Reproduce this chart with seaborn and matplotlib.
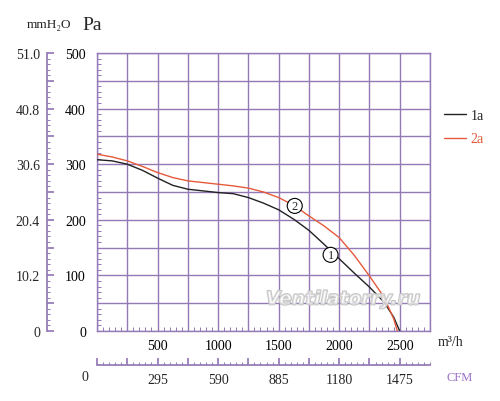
import pandas as pd
import matplotlib
matplotlib.use('Agg')
import matplotlib.pyplot as plt
import matplotlib.patheffects as pe
import seaborn as sns

# fan curves (flow in m3/h, static pressure in Pa)
flow_1 = [0, 125, 250, 375, 500, 625, 750, 875, 1000, 1125, 1250, 1375, 1500,
          1625, 1750, 1875, 2000, 2125, 2250, 2370, 2450, 2500]
pa_1 = [308, 306, 300, 289, 275, 262, 255, 252, 249, 247, 240, 230, 218,
        201, 181, 156, 130, 104, 79, 52, 25, 0]
flow_2 = [0, 125, 250, 375, 500, 625, 750, 875, 1000, 1125, 1250, 1375, 1500,
          1625, 1750, 1875, 2000, 2125, 2250, 2370, 2450, 2480]
pa_2 = [318, 313, 306, 296, 285, 276, 270, 267, 264, 261, 257, 250, 240,
        226, 207, 189, 168, 136, 99, 61, 22, 0]

x_labels = [500, 1000, 1500, 2000, 2500]
cfm_labels = [295, 590, 885, 1180, 1475]
pa_labels = [0, 100, 200, 300, 400, 500]
mm_labels = ['0', '10.2', '20.4', '30.6', '40.8', '51.0']

grid_col = '#9379b5'
red = '#e65a3c'

df = pd.concat([
    pd.DataFrame({'flow': flow_1, 'pa': pa_1, 'curve': '1a'}),
    pd.DataFrame({'flow': flow_2, 'pa': pa_2, 'curve': '2a'}),
])

sns.set_theme(style='white')
plt.rcParams['font.family'] = ['Liberation Serif', 'DejaVu Serif']

fig = plt.figure(figsize=(5.0, 4.02), dpi=100)
L, R, B, T = 97 / 500, 430 / 500, 1 - 332 / 402, 1 - 54 / 402
ax = fig.add_axes([L, B, R - L, T - B])

sns.lineplot(data=df, x='flow', y='pa', hue='curve', palette={'1a': '#222222', '2a': red},
             sort=False, linewidth=1.0, ax=ax, zorder=3)

ax.set_xlim(0, 2750)
ax.set_ylim(0, 500)
ax.set_xticks(range(0, 2751, 250))
ax.set_xticklabels([str(v) if v in x_labels else '' for v in range(0, 2751, 250)])
ax.set_xticks(range(0, 2751, 50), minor=True)
ax.set_yticks(range(0, 501, 50))
ax.set_yticklabels([str(v) if v in pa_labels else '' for v in range(0, 501, 50)])
ax.set_yticks(range(0, 501, 10), minor=True)
ax.grid(True, which='major', color=grid_col, linewidth=1.0)
ax.tick_params(which='major', direction='in', length=0, labelsize=10, pad=6, colors='black')
ax.tick_params(axis='y', which='major', pad=8)
ax.tick_params(which='minor', direction='in', length=3, width=0.7, color=grid_col,
               bottom=True, left=True)
for s in ax.spines.values():
    s.set_color(grid_col)
    s.set_linewidth(1.0)
ax.set_xlabel('')
ax.set_ylabel('')

# circled curve numbers
ax.text(1633, 225, '2', fontsize=9, ha='center', va='center', zorder=4,
        bbox=dict(boxstyle='circle,pad=0.12', fc='white', ec='black', lw=0.8))
ax.text(1929, 137, '1', fontsize=9, ha='center', va='center', zorder=4,
        bbox=dict(boxstyle='circle,pad=0.12', fc='white', ec='black', lw=0.8))

leg = ax.legend(loc='upper left', bbox_to_anchor=(444 / 500, 1 - 110 / 402),
                bbox_transform=fig.transFigure, frameon=False, fontsize=10,
                handlelength=1.6, handletextpad=0.3, labelspacing=0.75,
                borderpad=0, borderaxespad=0, labelcolor='linecolor')

# mmH2O scale
axm = fig.add_axes([47 / 500, B, 0.001, T - B])
axm.patch.set_visible(False)
for k in ['right', 'top', 'bottom']:
    axm.spines[k].set_visible(False)
axm.spines['left'].set_color(grid_col)
axm.set_ylim(0, 51)
axm.set_xticks([])
mm_major = [i * 5.1 for i in range(11)]
axm.set_yticks(mm_major)
axm.set_yticklabels([mm_labels[i // 2] if i % 2 == 0 else '' for i in range(11)])
axm.set_yticks([i * 1.02 for i in range(51)], minor=True)
axm.tick_params(axis='y', which='major', direction='in', length=5, color=grid_col,
                labelsize=10, pad=5, left=True)
axm.tick_params(axis='y', which='minor', direction='in', length=2.5, width=0.7,
                color=grid_col, left=True)

# CFM scale
axc = fig.add_axes([L, 1 - 366 / 402, R - L, 0.001])
axc.patch.set_visible(False)
for k in ['left', 'right', 'top']:
    axc.spines[k].set_visible(False)
axc.spines['bottom'].set_color(grid_col)
axc.set_xlim(0, 2750 * 0.59)
axc.set_yticks([])
cfm_major = [i * 147.5 for i in range(11)]
axc.set_xticks(cfm_major)
axc.set_xticklabels([str(cfm_labels[i // 2 - 1]) if i % 2 == 0 and i > 0 else ''
                     for i in range(11)])
axc.set_xticks([i * 29.5 for i in range(56)], minor=True)
axc.tick_params(axis='x', which='major', direction='in', length=5, color=grid_col,
                labelsize=10, pad=6, bottom=True)
axc.tick_params(axis='x', which='minor', direction='in', length=2.5, width=0.7,
                color=grid_col, bottom=True)

# unit labels
fig.text(85 / 500, 1 - 378 / 402, '0', fontsize=10, ha='center', va='center')
fig.text(27 / 500, 1 - 25 / 402, 'mmH₂O', fontsize=9.5, ha='left', va='center')
fig.text(82 / 500, 1 - 25 / 402, 'Pa', fontsize=14, ha='left', va='center')
fig.text(438 / 500, 1 - 343 / 402, 'm³/h', fontsize=10, ha='left', va='center')
fig.text(460 / 500, 1 - 378 / 402, 'CFM', fontsize=9, ha='center', va='center',
         color='#9b6fc8')

fig.text(343 / 500, 1 - 300 / 402, 'Ventilatorry.ru', fontsize=13.5, style='italic',
         weight='bold', color=(1, 1, 1, 0.45), ha='center', va='center', family='DejaVu Sans',
         path_effects=[pe.withStroke(linewidth=1.3, foreground='#c4c4c4')])

fig.savefig('out.png', dpi=100)
